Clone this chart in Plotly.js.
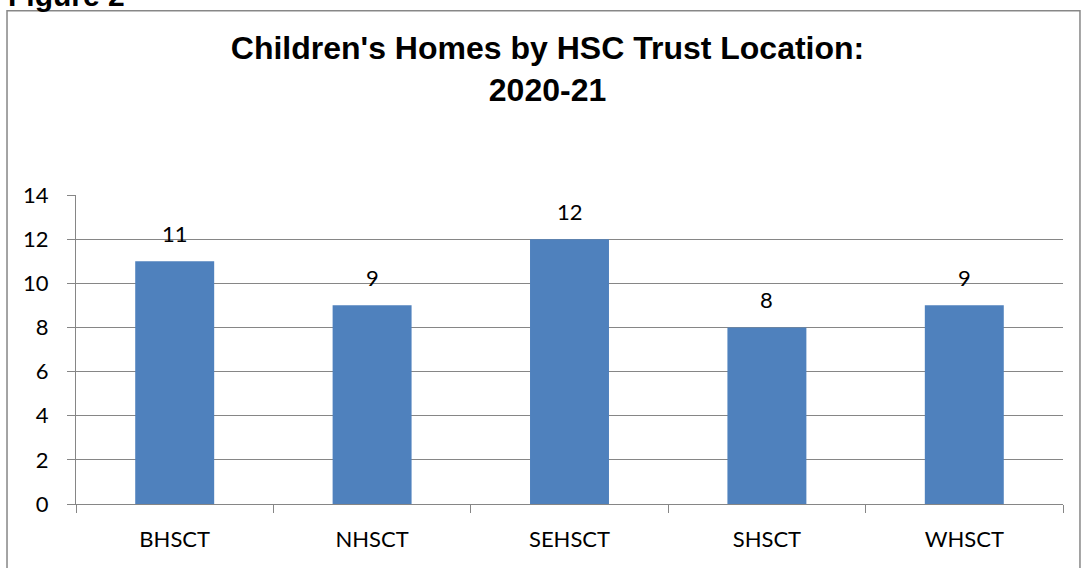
<!DOCTYPE html>
<html>
<head>
<meta charset="utf-8">
<script src="https://cdn.plot.ly/plotly-3.0.1.min.js"></script>
<style>html,body{margin:0;padding:0;background:#fff;}#chart{width:1081px;height:568px;}</style>
</head>
<body>
<div id="chart"></div>
<script>
const categories = ["BHSCT", "NHSCT", "SEHSCT", "SHSCT", "WHSCT"];
const homes = [11, 9, 12, 8, 9];
const yTicks = [0, 2, 4, 6, 8, 10, 12, 14];
const chartTitle = "Children's Homes by HSC Trust Location:<br>2020-21";
const figureLabel = "Figure 2";

const labelFont = {family: "Lato, 'Open Sans', sans-serif", size: 22, color: "#000"};

const annotations = categories.map((c, i) => ({
  x: c, y: homes[i], xref: "x", yref: "y", text: String(homes[i]),
  showarrow: false, yanchor: "middle", yshift: 28, font: labelFont
}));
annotations.push({
  xref: "paper", yref: "paper", x: -0.071, y: 1.647, xanchor: "left", yanchor: "middle",
  text: "<b>" + figureLabel + "</b>", showarrow: false,
  font: {family: "'Liberation Sans', Arial, sans-serif", size: 30, color: "#000"}
});

const data = [{
  type: "bar", x: categories, y: homes,
  marker: {color: "#4F81BD"}, hoverinfo: "x+y"
}];

const layout = {
  width: 1081, height: 568,
  margin: {l: 76, r: 18, t: 194.5, b: 64, pad: 0},
  paper_bgcolor: "#fff", plot_bgcolor: "#fff",
  bargap: 0.6,
  showlegend: false,
  title: {
    text: "<b>" + chartTitle + "</b>",
    x: 0.5065, xref: "container", xanchor: "center",
    y: 0.896, yref: "container", yanchor: "middle",
    font: {family: "'Liberation Sans', Arial, sans-serif", size: 32, color: "#000"}
  },
  xaxis: {
    type: "category", tickson: "boundaries", ticks: "outside", ticklen: 8,
    tickcolor: "#868686", showline: true, linecolor: "#868686", linewidth: 1,
    showgrid: false, tickfont: labelFont, ticklabelstandoff: 16, fixedrange: true
  },
  yaxis: {
    range: [0, 14], tickvals: yTicks, ticktext: yTicks.map(String),
    ticks: "outside", ticklen: 8, tickcolor: "#868686",
    showline: true, linecolor: "#868686", linewidth: 1,
    showgrid: true, gridcolor: "#868686", gridwidth: 1, zeroline: false,
    tickfont: labelFont, ticklabelstandoff: 14, fixedrange: true
  },
  shapes: [{
    type: "rect", xref: "paper", yref: "paper",
    x0: -0.0699, x1: 1.0172, y0: -0.25, y1: 1.596,
    line: {color: "#878787", width: 1.5}, fillcolor: "rgba(0,0,0,0)", layer: "below"
  }],
  annotations: annotations
};

Plotly.newPlot("chart", data, layout, {displayModeBar: false, staticPlot: true});
</script>
</body>
</html>
